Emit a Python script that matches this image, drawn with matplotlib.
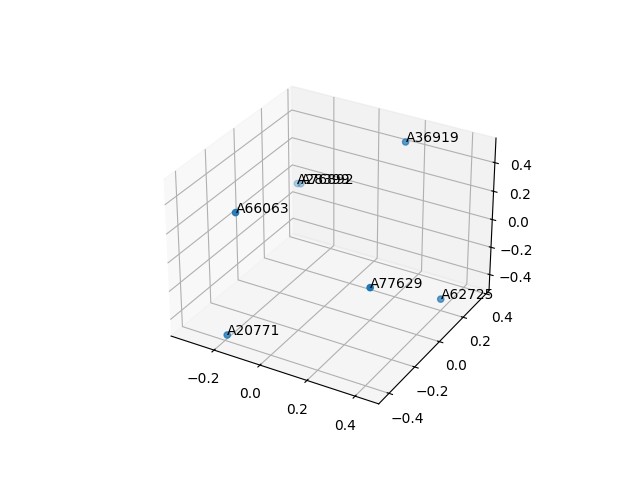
import matplotlib
matplotlib.use("Agg")
import matplotlib.pyplot as plt

labels = ["A20771", "A66063", "A28399", "A76892", "A36919", "A77629", "A62725"]
xs = [-0.177, -0.202, -0.335, -0.313, 0.182, 0.318, 0.44]
ys = [-0.42, -0.30, 0.37, 0.36, 0.302, -0.22, 0.116]
zs = [-0.45, 0.296, -0.07, -0.055, 0.50, -0.036, -0.343]

fig = plt.figure()
ax = fig.add_subplot(projection="3d")
ax.scatter(xs, ys, zs)
for x, y, z, name in zip(xs, ys, zs, labels):
    ax.text(x, y, z, name)

plt.savefig("out.png", dpi=100)
